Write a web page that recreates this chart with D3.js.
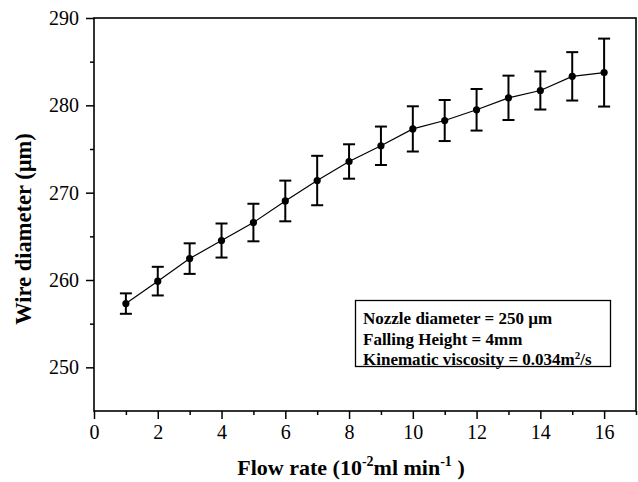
<!DOCTYPE html>
<html>
<head>
<meta charset="utf-8">
<script src="https://cdn.jsdelivr.net/npm/d3@7"></script>
<style>
  body { margin: 0; background: #fff; }
  svg { display: block; font-family: "Liberation Serif", "Times New Roman", serif; }
</style>
</head>
<body>
<svg width="638" height="482"></svg>
<script>
const flowRate = [1, 2, 3, 4, 5, 6, 7, 8, 9, 10, 11, 12, 13, 14, 15, 16];
const diameter = [257.3, 259.87, 262.45, 264.52, 266.58, 269.05, 271.39, 273.57, 275.37, 277.3, 278.26, 279.49, 280.86, 281.7, 283.32, 283.75];
const errBar = [1.17, 1.64, 1.75, 1.95, 2.15, 2.33, 2.83, 1.97, 2.2, 2.59, 2.35, 2.38, 2.54, 2.18, 2.77, 3.89];
const xTicks = [0, 2, 4, 6, 8, 10, 12, 14, 16];
const yTicks = [250, 260, 270, 280, 290];
const legendLines = [
  [{ t: 'Nozzle diameter = 250 µm' }],
  [{ t: 'Falling Height = 4mm' }],
  [{ t: 'Kinematic viscosity = 0.034m' }, { t: '2', sup: true }, { t: '/s' }]
];

const data = flowRate.map((x, i) => ({ x, y: diameter[i], e: errBar[i] }));

const svg = d3.select('svg');
const width = +svg.attr('width');
const height = +svg.attr('height');
const margin = { top: 18, right: 2, bottom: 71, left: 94 };
const innerWidth = width - margin.left - margin.right;
const innerHeight = height - margin.top - margin.bottom;

const xScale = d3.scaleLinear().domain([0, 17]).range([0, innerWidth]);
const yScale = d3.scaleLinear().domain([245, 290]).range([innerHeight, 0]);

const g = svg.append('g')
  .attr('transform', `translate(${margin.left},${margin.top})`);

// minor ticks first
const xMinor = g.append('g')
  .attr('transform', `translate(0,${innerHeight})`)
  .call(d3.axisBottom(xScale).tickValues(d3.range(1, 18, 2)).tickSize(4).tickFormat(''));
const yMinor = g.append('g')
  .call(d3.axisLeft(yScale).tickValues([255, 265, 275, 285]).tickSize(4).tickFormat(''));
[xMinor, yMinor].forEach(a => {
  a.select('.domain').remove();
  a.selectAll('text').remove();
  a.selectAll('line').attr('stroke-width', 1.5);
});

const xAxisG = g.append('g')
  .attr('transform', `translate(0,${innerHeight})`)
  .call(d3.axisBottom(xScale).tickValues(xTicks).tickSize(8).tickPadding(6));
const yAxisG = g.append('g')
  .call(d3.axisLeft(yScale).tickValues(yTicks).tickSize(8).tickPadding(7));

[xAxisG, yAxisG].forEach(a => {
  a.attr('font-family', '"Liberation Serif", serif').attr('font-size', 20);
  a.select('.domain').remove();
  a.selectAll('line').attr('stroke-width', 1.5);
  a.selectAll('text').attr('fill', '#000');
});

// frame
g.append('rect')
  .attr('width', innerWidth)
  .attr('height', innerHeight)
  .attr('fill', 'none')
  .attr('stroke', '#000')
  .attr('stroke-width', 1.6);

// error bars
const capW = 6;
const eb = g.append('g').attr('stroke', '#000').attr('stroke-width', 2);
data.forEach(d => {
  const cx = xScale(d.x);
  const y1 = yScale(d.y + d.e);
  const y2 = yScale(d.y - d.e);
  eb.append('line').attr('x1', cx).attr('x2', cx).attr('y1', y1).attr('y2', y2);
  eb.append('line').attr('x1', cx - capW).attr('x2', cx + capW).attr('y1', y1).attr('y2', y1);
  eb.append('line').attr('x1', cx - capW).attr('x2', cx + capW).attr('y1', y2).attr('y2', y2);
});

const line = d3.line().x(d => xScale(d.x)).y(d => yScale(d.y));
g.append('path')
  .datum(data)
  .attr('d', line)
  .attr('fill', 'none')
  .attr('stroke', '#000')
  .attr('stroke-width', 1.2);

g.selectAll('circle').data(data)
  .enter().append('circle')
  .attr('cx', d => xScale(d.x))
  .attr('cy', d => yScale(d.y))
  .attr('r', 3.6)
  .attr('fill', '#000');

// axis titles
svg.append('text')
  .attr('transform', 'translate(31,229) rotate(-90)')
  .attr('text-anchor', 'middle')
  .attr('font-weight', 'bold')
  .attr('font-size', 22.5)
  .text('Wire diameter (µm)');

const xt = svg.append('text')
  .attr('x', 351)
  .attr('y', 475)
  .attr('text-anchor', 'middle')
  .attr('font-weight', 'bold')
  .attr('font-size', 22);
xt.append('tspan').text('Flow rate (10');
xt.append('tspan').attr('dy', -9).attr('font-size', 14).text('-2');
xt.append('tspan').attr('dy', 9).text('ml min');
xt.append('tspan').attr('dy', -9).attr('font-size', 14).text('-1');
xt.append('tspan').attr('dy', 9).text(' )');

// info box
const box = svg.append('g');
box.append('rect')
  .attr('x', 355.5).attr('y', 300.5)
  .attr('width', 255).attr('height', 66)
  .attr('fill', '#fff')
  .attr('stroke', '#000')
  .attr('stroke-width', 1.3);
legendLines.forEach((parts, i) => {
  const t = box.append('text')
    .attr('x', 363)
    .attr('y', 318 + i * 20.5)
    .attr('font-weight', 'bold')
    .attr('font-size', 17);
  parts.forEach(p => {
    if (p.sup) t.append('tspan').attr('dy', -6).attr('font-size', 11).text(p.t);
    else t.append('tspan').attr('dy', t.selectAll('tspan').size() ? 6 : 0).text(p.t);
  });
});
</script>
</body>
</html>
